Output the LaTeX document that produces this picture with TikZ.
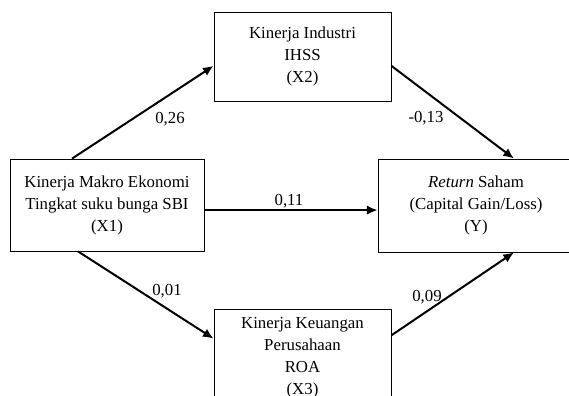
\documentclass[tikz,border=0pt]{standalone}
\usepackage{fontspec}
\setmainfont{Liberation Serif}
\usetikzlibrary{arrows.meta}

\tikzset{
  varbox/.style={draw, line width=0.6pt, align=center, inner sep=0pt,
    font=\fontsize{12.6}{16.5}\selectfont},
  link/.style={line width=1.5pt, -{Latex[length=8pt,width=7pt]}},
  coef/.style={inner sep=0pt, font=\fontsize{12.6}{15}\selectfont}
}

\begin{document}
\begin{tikzpicture}[x=0.75pt,y=-0.75pt]
\clip (0,0) rectangle (569,396);
\node[varbox, minimum width=194*0.75pt, minimum height=92*0.75pt] (x1) at (107,205)
  {Kinerja Makro Ekonomi\\Tingkat suku bunga SBI\\(X1)};
\node[varbox, minimum width=177*0.75pt, minimum height=89*0.75pt] (x2) at (302.5,56.5)
  {Kinerja Industri\\IHSS\\(X2)};
\node[varbox, minimum width=177*0.75pt, minimum height=97*0.75pt] (x3) at (302.5,357.5)
  {Kinerja Keuangan\\Perusahaan\\ROA\\(X3)};
\node[varbox, minimum width=196*0.75pt, minimum height=93*0.75pt] (y) at (476,205.5)
  {\textit{Return} Saham\\(Capital Gain/Loss)\\(Y)};
\draw[link] (x1.127) -- (x2.186.8);
\draw[link] (x2.-6.8) -- (y.51.5);
\draw[link] (x1.-3.5) -- (x1.-3.5 -| y.west);
\draw[link] (x1.238) -- (x3.168.8);
\draw[link] (x3.14.9) -- (y.-51.5);
\node[coef] (b12) at (170,119) {0,26};
\node[coef] (b2y) at (426,118.5) {-0,13};
\node[coef] (b1y) at (289,201) {0,11};
\node[coef] (b13) at (167,291) {0,01};
\node[coef] (b3y) at (427,297) {0,09};
\end{tikzpicture}
\end{document}
